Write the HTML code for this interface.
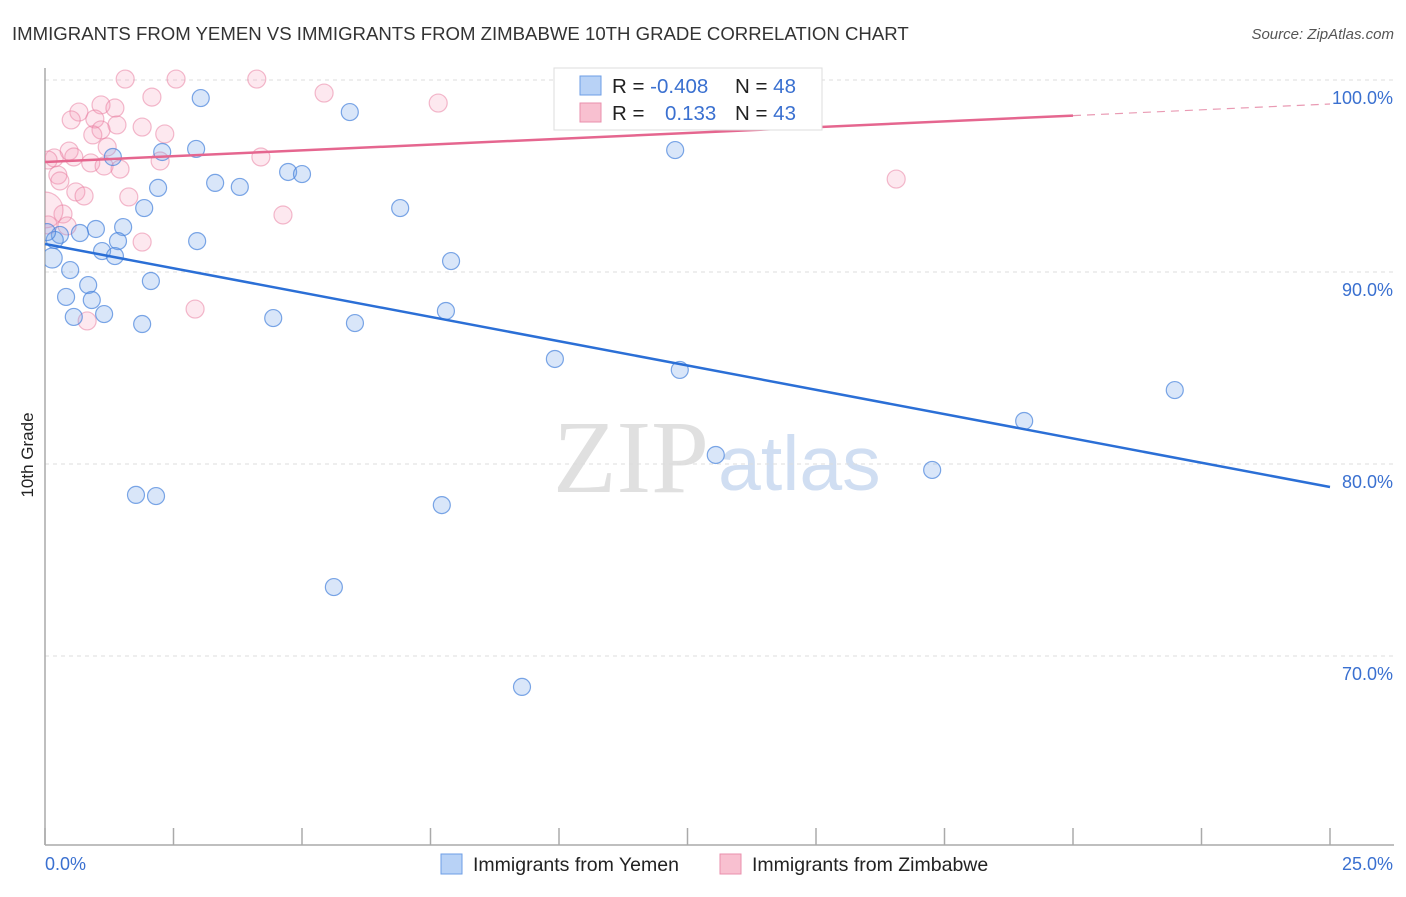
<!DOCTYPE html>
<html><head><meta charset="utf-8"><style>
body{margin:0;background:#fff;font-family:"Liberation Sans",sans-serif;}
svg text{font-family:"Liberation Sans",sans-serif;}
</style></head><body>
<svg width="1406" height="892" viewBox="0 0 1406 892">
<defs><clipPath id="plotclip"><rect x="45" y="60" width="1360" height="785"/></clipPath></defs>
<text x="12" y="40" font-size="18.6" fill="#333">IMMIGRANTS FROM YEMEN VS IMMIGRANTS FROM ZIMBABWE 10TH GRADE CORRELATION CHART</text>
<text x="1394" y="39" font-size="15" fill="#555" text-anchor="end" font-style="italic">Source: ZipAtlas.com</text>
<text x="33" y="455" font-size="17" fill="#222" text-anchor="middle" transform="rotate(-90 33 455)">10th Grade</text>
<text x="553" y="492" font-size="104" fill="#e0e0e0" style="font-family:'Liberation Serif',serif">ZIP</text>
<text x="718" y="490" font-size="77" fill="#d0def2">atlas</text>
<g id="grid"></g><g id="axes"></g><g id="pts" clip-path="url(#plotclip)"></g><g id="lines"></g>
<g>
<rect x="554" y="68" width="268" height="62" fill="#fff" stroke="#ddd"/>
<rect x="580" y="76" width="21" height="19" fill="#b8d2f6" stroke="#6d9ee6"/>
<rect x="580" y="103" width="21" height="19" fill="#f8c0d0" stroke="#ea8fac"/>
<text x="612" y="93" font-size="20.5" fill="#222">R = <tspan fill="#3a70d0">-0.408</tspan></text>
<text x="735" y="93" font-size="20.5" fill="#222">N = <tspan fill="#3a70d0">48</tspan></text>
<text x="612" y="120" font-size="20.5" fill="#222">R = <tspan fill="#3a70d0" x="665">0.133</tspan></text>
<text x="735" y="120" font-size="20.5" fill="#222">N = <tspan fill="#3a70d0">43</tspan></text>
</g>
<g>
<rect x="441" y="854" width="21" height="20" fill="#b8d2f6" stroke="#6d9ee6"/>
<text x="473" y="871" font-size="19.5" fill="#222">Immigrants from Yemen</text>
<rect x="720" y="854" width="21" height="20" fill="#f8c0d0" stroke="#ea8fac"/>
<text x="752" y="871" font-size="19.5" fill="#222">Immigrants from Zimbabwe</text>
</g>
</svg>
<script>
const yTicks=[100,90,80,70];
const yTickLabels=["100.0%","90.0%","80.0%","70.0%"];
const xEndLabels=["0.0%","25.0%"];
const yemenX=[3.03,5.93,12.26,2.28,2.94,1.32,2.20,3.31,3.79,4.73,5.00,1.93,6.91,1.52,0.99,0.68,0.29,0.19,1.42,2.96,1.11,1.36,0.14,7.90,0.49,2.06,0.84,0.41,0.91,0.56,1.15,1.89,4.44,6.03,7.80,9.92,12.35,21.98,19.05,13.05,17.26,1.77,2.16,7.72,5.62,9.28,0.04];
const yemenY=[99.06,98.33,96.35,96.25,96.41,95.99,94.38,94.64,94.43,95.21,95.10,93.33,93.33,92.34,92.24,92.03,91.93,91.67,91.61,91.61,91.09,90.83,90.73,90.57,90.10,89.53,89.32,88.70,88.54,87.66,87.81,87.29,87.60,87.34,87.97,85.47,84.90,83.85,82.24,80.47,79.69,78.39,78.33,77.86,73.59,68.39,92.08];
const zimX=[1.56,2.55,4.12,5.43,7.65,2.08,1.09,1.36,0.66,0.51,0.97,1.40,1.09,0.93,1.89,2.33,1.21,0.47,0.18,0.06,0.56,0.89,1.15,1.46,2.24,4.20,0.25,0.29,0.60,0.76,1.63,0.35,0.43,4.63,1.89,2.92,0.82,16.56,0.0,0.06,10.41];
const zimY=[100.05,100.05,100.05,99.32,98.80,99.11,98.70,98.54,98.33,97.92,97.97,97.66,97.40,97.14,97.55,97.19,96.51,96.30,95.94,95.83,95.99,95.68,95.52,95.36,95.78,95.99,95.05,94.74,94.17,93.96,93.91,93.02,92.40,92.97,91.56,88.07,87.45,94.84,93.23,92.45,98.13];
const zimR=[9,9,9,9,9,9,9,9,9,9,9,9,9,9,9,9,9,9,9,9,9,9,9,9,9,9,9,9,9,9,9,9,9,9,9,9,9,9,18,9,9];
const yemenTrend=[91.46,78.8];
const zimTrend=[95.73,98.75];
const NS="http://www.w3.org/2000/svg";
const X0=45,X1=1330,Y100=80,PXPER=19.2;
const sx=v=>X0+(v/25)*(X1-X0);
const sy=v=>Y100+(100-v)*PXPER;
function mk(tag,attrs,parent){const e=document.createElementNS(NS,tag);for(const k in attrs)e.setAttribute(k,attrs[k]);document.getElementById(parent).appendChild(e);return e;}
yTicks.forEach((t,i)=>{
 const l=mk('line',{x1:X0,x2:1394,y1:sy(t),y2:sy(t),stroke:'#ddd','stroke-dasharray':'4,4'},'grid');
 
 
 const tx=mk('text',{x:1393,y:sy(t)+24,'font-size':18,fill:'#3a70d0','text-anchor':'end'},'grid');
 tx.textContent=yTickLabels[i];
 
 
});
const ya=mk('line',{x1:X0,x2:X0,y1:68,y2:845,stroke:'#aaa','stroke-width':1.5},'axes');


const xa=mk('line',{x1:X0,x2:1394,y1:845,y2:845,stroke:'#aaa','stroke-width':1.5},'axes');


for(let i=0;i<=10;i++){
 const t=mk('line',{x1:sx(i*2.5),x2:sx(i*2.5),y1:828,y2:845,stroke:'#aaa','stroke-width':1.5},'axes');
 
 
}
[[0,'start',45],[25,'end',1393]].forEach((d,i)=>{
 const t=mk('text',{x:d[2],y:870,'font-size':18,fill:'#3a70d0','text-anchor':d[1]},'axes');
 t.textContent=xEndLabels[i];
 
 
});
zimX.forEach((v,i)=>{
 const c=mk('circle',{cx:sx(v),cy:sy(zimY[i]),r:zimR[i],fill:'rgba(244,150,180,0.22)',stroke:'rgba(232,120,155,0.5)','stroke-width':1.2},'pts');
 
 
});
yemenX.forEach((v,i)=>{
 const c=mk('circle',{cx:sx(v),cy:sy(yemenY[i]),r:i==22?10:8.5,fill:'rgba(120,165,235,0.28)',stroke:'rgba(70,130,220,0.7)','stroke-width':1.2},'pts');
 
 
});
const bl=mk('line',{x1:sx(0),y1:sy(yemenTrend[0]),x2:sx(25),y2:sy(yemenTrend[1]),stroke:'#2b6fd6','stroke-width':2.5},'lines');


const zAt=x=>zimTrend[0]+(zimTrend[1]-zimTrend[0])*x/25;
const pl=mk('line',{x1:sx(0),y1:sy(zAt(0)),x2:sx(20),y2:sy(zAt(20)),stroke:'#e5668f','stroke-width':2.5},'lines');


const pd=mk('line',{x1:sx(20),y1:sy(zAt(20)),x2:sx(25),y2:sy(zAt(25)),stroke:'#e99ab3','stroke-width':1.2,'stroke-dasharray':'8,6'},'lines');


</script>
</body></html>
